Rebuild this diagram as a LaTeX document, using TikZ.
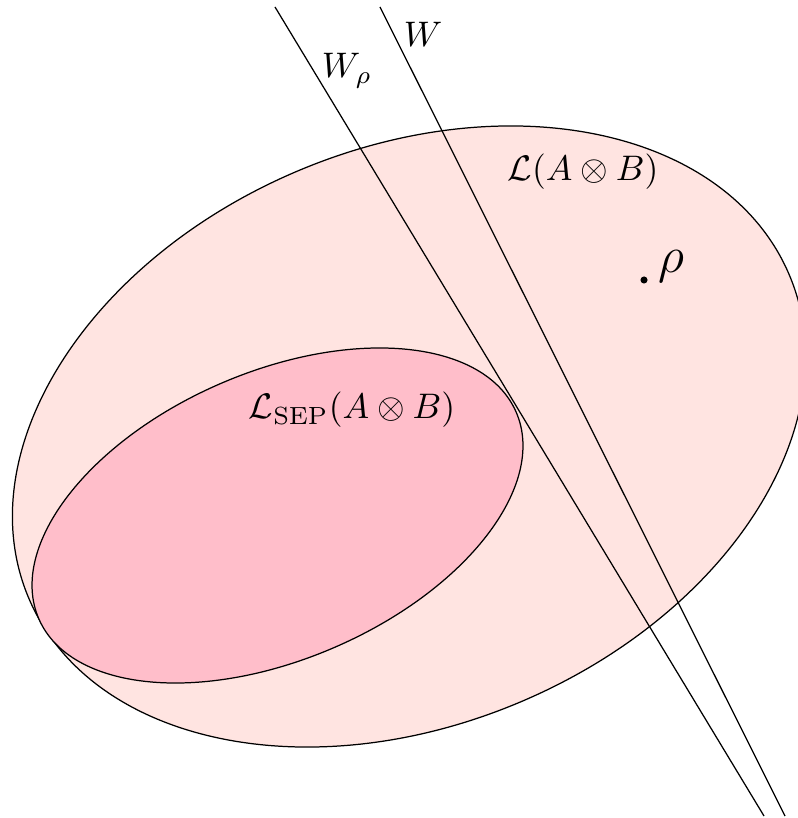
\documentclass[tikz,border=0pt]{standalone}
\usepackage{amsmath}
\definecolor{bigfill}{RGB}{255,228,225}
\definecolor{sepfill}{RGB}{255,190,202}
\begin{document}
\begin{tikzpicture}[x=0.2817pt,y=-0.2817pt,
  region/.style={draw=black,line width=0.35pt},
  hyper/.style={draw=black,line width=0.35pt},
  lab/.style={inner sep=0pt,anchor=base}]
\useasboundingbox (0,0) rectangle (797,818);
% full state space
\path[region,fill=bigfill,rotate around={23.1:(409,436.5)}] (409,436.5) ellipse [x radius=413.2, y radius=287.9];
% separable states
\path[region,fill=sepfill,rotate around={23.4:(277.5,515.5)}] (277.5,515.5) ellipse [x radius=260.1, y radius=143.7];
% hyperplanes
\coordinate (wr1) at (275,7);
\coordinate (wr2) at (764,816);
\coordinate (w1) at (380,7);
\coordinate (w2) at (785,816);
\draw[hyper] (wr1) -- (wr2);
\draw[hyper] (w1) -- (w2);
% labels
\node[lab] (lWr) at (347,78) {$W_\rho$};
\node[lab] (lW) at (423,47) {$W$};
\node[lab] (lL) at (583,181) {$\mathcal{L}(A\otimes B)$};
\node[lab] (lSep) at (352,419) {$\mathcal{L}_{\mathrm{SEP}}(A\otimes B)$};
\node[circle,fill=black,inner sep=0pt,minimum size=2pt] (dot) at (644,280) {};
\node[lab] (lrho) at (671,273) {\Large$\rho$};
\end{tikzpicture}
\end{document}
